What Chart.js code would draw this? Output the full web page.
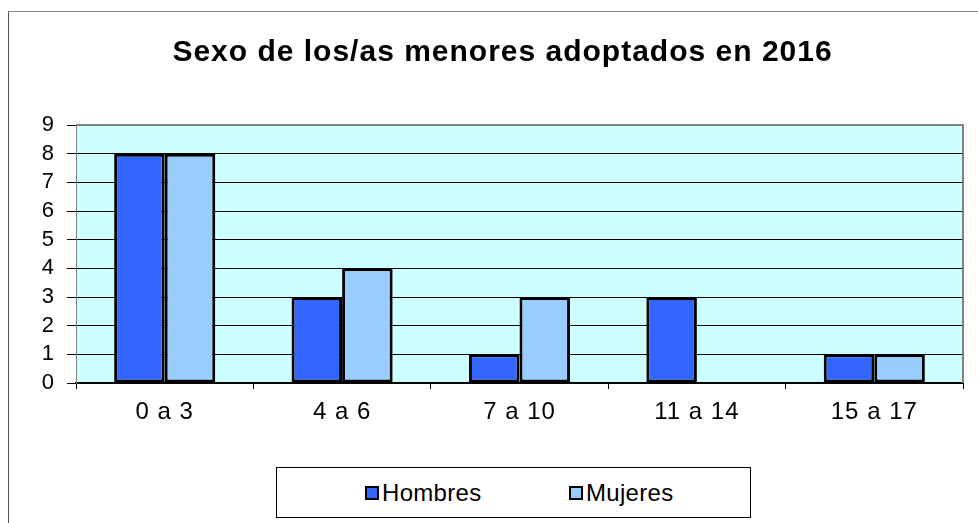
<!DOCTYPE html>
<html>
<head>
<meta charset="utf-8">
<script src="https://cdn.jsdelivr.net/npm/chart.js@4/dist/chart.umd.min.js"></script>
<style>
    body { margin: 0; background: #fff; font-family: "Liberation Sans", Arial, sans-serif; }
    #wrap { position: relative; width: 978px; height: 523px; overflow: hidden; }
    #frame { position: absolute; left: 8px; top: 11px; width: 1000px; height: 600px; border-left: 1px solid #555; border-top: 1px solid #888; }
    #chart { position: absolute; left: 0; top: 0; }
    #legend { position: absolute; left: 276px; top: 467px; width: 473px; height: 49px; border: 1px solid #000; background: #fff; }
    #legend .item { position: absolute; top: 11px; font-size: 24px; line-height: 28px; color: #000; white-space: nowrap; letter-spacing: 0.3px; }
    #legend .box { display: inline-block; width: 10px; height: 10px; border: 2px solid #000; margin-right: 3px; vertical-align: 1px; }
</style>
</head>
<body>
<div id="wrap">
    <div id="frame"></div>
    <canvas id="chart" width="978" height="523"></canvas>
    <div id="legend"></div>
</div>
<script>
var chartTitle = 'Sexo de los/as menores adoptados en 2016';
var ageGroups = ['0 a 3', '4 a 6', '7 a 10', '11 a 14', '15 a 17'];
var seriesNames = ['Hombres', 'Mujeres'];
var hombres = [8, 3, 1, 3, 1];
var mujeres = [8, 4, 3, 0, 1];
var seriesColors = ['#3366FF', '#99CCFF'];
var yTicks = [0, 1, 2, 3, 4, 5, 6, 7, 8, 9];

// Excel-like plot area: cyan fill, grey top/right edge, slightly spaced text
var plotBackground = {
    id: 'plotBackground',
    afterLayout: function (chart) {
        // title sits a little right of the canvas centre in the original
        chart.titleBlock.left += 17;
        chart.titleBlock.right += 17;
    },
    beforeDraw: function (chart) {
        var a = chart.chartArea, ctx = chart.ctx;
        ctx.save();
        ctx.fillStyle = '#CCFFFF';
        ctx.fillRect(a.left, a.top, a.right - a.left, a.bottom - a.top);
        ctx.restore();
        ctx.letterSpacing = '1px';
    },
    afterDraw: function (chart) {
        var a = chart.chartArea, ctx = chart.ctx;
        ctx.save();
        ctx.strokeStyle = '#808080';
        ctx.lineWidth = 2;
        ctx.beginPath();
        ctx.moveTo(a.left, a.top);
        ctx.lineTo(a.right, a.top);
        ctx.lineTo(a.right, a.bottom);
        ctx.stroke();
        ctx.restore();
        ctx.letterSpacing = '0px';
    }
};

var ctx = document.getElementById('chart').getContext('2d');
var chart = new Chart(ctx, {
    type: 'bar',
    data: {
        labels: ageGroups,
        datasets: [
            { label: seriesNames[0], data: hombres, backgroundColor: seriesColors[0], borderColor: '#000', borderWidth: 3, borderSkipped: false },
            { label: seriesNames[1], data: mujeres, backgroundColor: seriesColors[1], borderColor: '#000', borderWidth: 3, borderSkipped: false }
        ]
    },
    options: {
        responsive: false,
        animation: false,
        categoryPercentage: 0.57,
        barPercentage: 1,
        layout: { padding: { left: 8, right: 15, top: 0, bottom: 100 } },
        plugins: {
            legend: { display: false },
            tooltip: { enabled: false },
            title: {
                display: true,
                text: chartTitle,
                color: '#000',
                font: { family: '"Liberation Sans", Arial, sans-serif', size: 30, weight: 'bold', lineHeight: 1.2 },
                padding: { top: 35, bottom: 54 }
            }
        },
        scales: {
            x: {
                afterFit: function (s) { s.height = 40; },
                grid: { display: true, drawOnChartArea: false, drawTicks: true, tickLength: 6, color: '#000', offset: true },
                border: { display: true, color: '#000', width: 2 },
                ticks: { color: '#000', padding: 9, font: { family: '"Liberation Sans", Arial, sans-serif', size: 24 } }
            },
            y: {
                min: 0,
                max: 9,
                afterFit: function (s) { s.width = 68; },
                afterBuildTicks: function (s) { s.ticks = yTicks.map(function (v) { return { value: v }; }); },
                grid: { color: '#000', lineWidth: 1, tickLength: 9 },
                border: { display: true, color: '#808080', width: 1 },
                ticks: { color: '#000', padding: 12, autoSkip: false, font: { family: '"Liberation Sans", Arial, sans-serif', size: 22 } }
            }
        }
    },
    plugins: [plotBackground]
});

var legendEl = document.getElementById('legend');
var legendLefts = [88, 292];
chart.data.datasets.forEach(function (ds, i) {
    var item = document.createElement('span');
    item.className = 'item';
    item.style.left = legendLefts[i] + 'px';
    var box = document.createElement('span');
    box.className = 'box';
    box.style.background = ds.backgroundColor;
    item.appendChild(box);
    item.appendChild(document.createTextNode(ds.label));
    legendEl.appendChild(item);
});
</script>
</body>
</html>
